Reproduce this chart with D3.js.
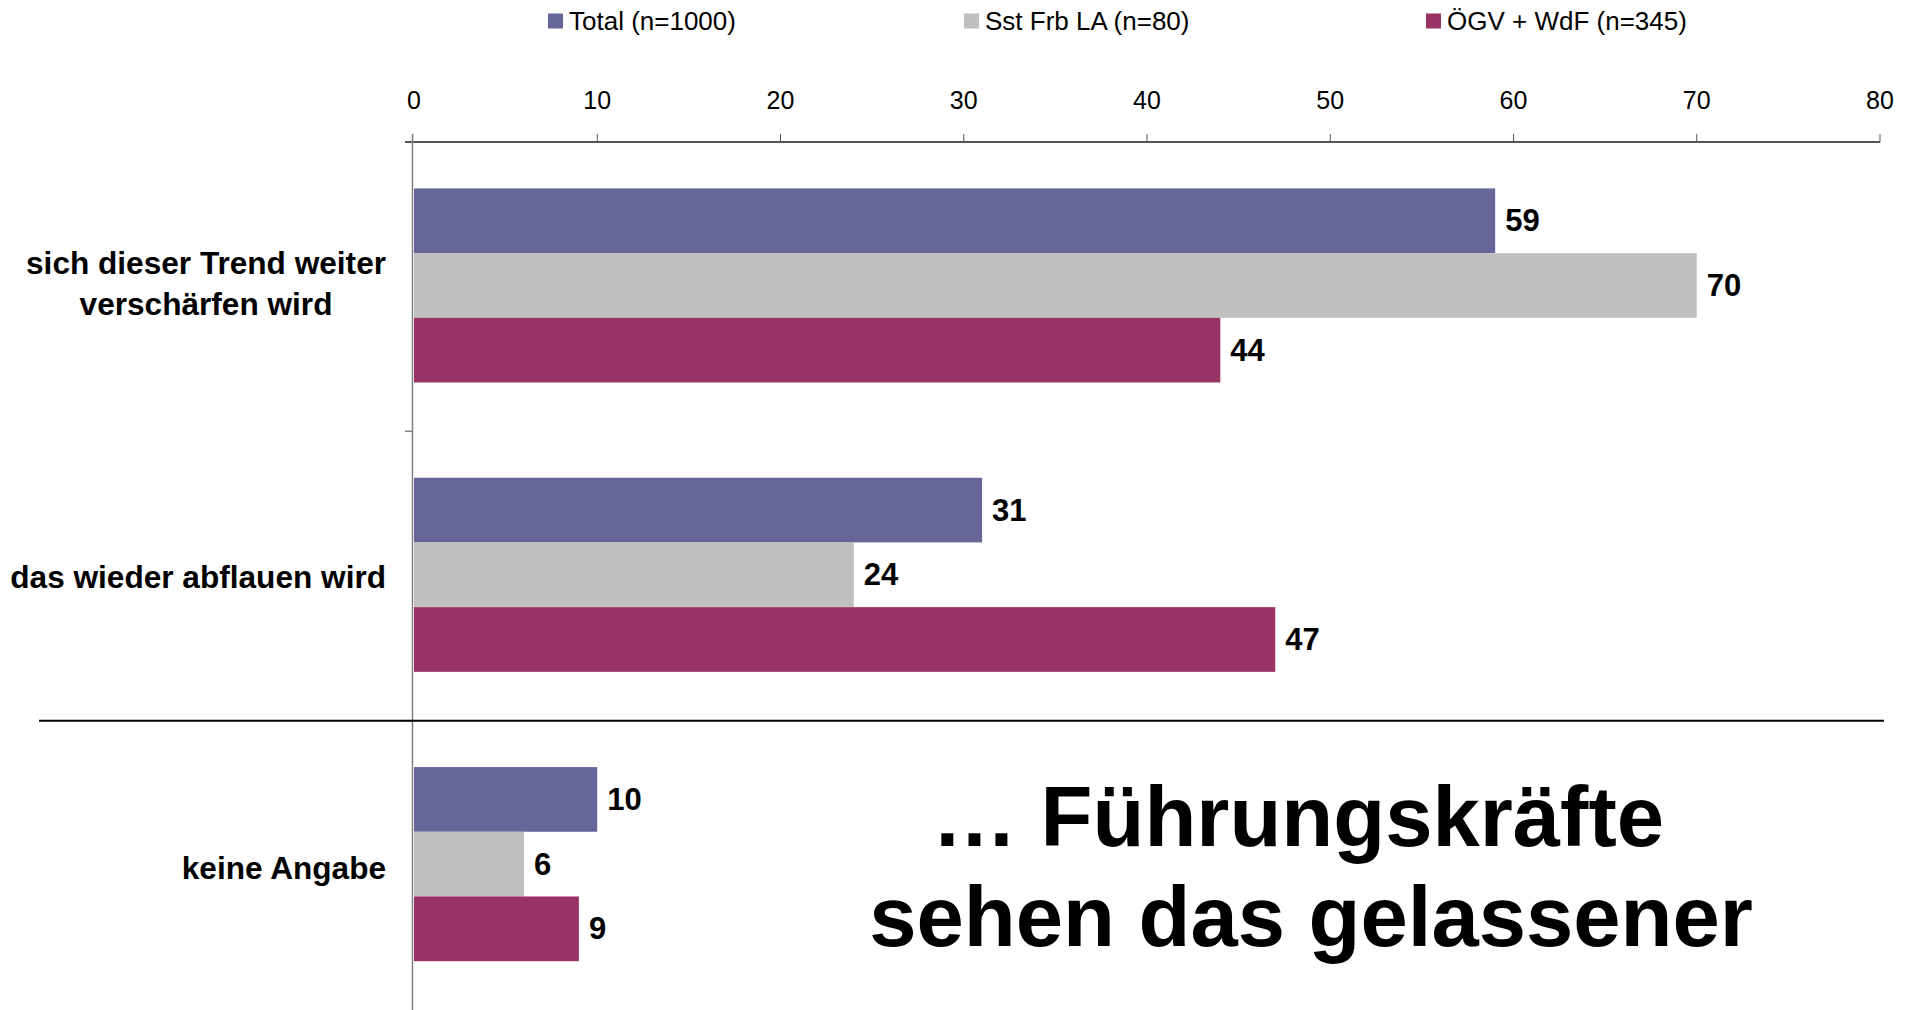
<!DOCTYPE html>
<html lang="de">
<head>
  <meta charset="UTF-8" />
  <title>Führungskräfte</title>
  <script src="https://d3js.org/d3.v7.min.js"></script>
  <style>
    body { margin: 0; background: #fff; font-family: 'Liberation Sans', Arial, sans-serif; }
    svg { display: block; }
  </style>
</head>
<body>
  <svg id="chart" width="1914" height="1010"></svg>
  <script>
    // data
    const categories = ["sich dieser Trend weiter|verschärfen wird", "das wieder abflauen wird", "keine Angabe"];
    const series = ["Total (n=1000)", "Sst Frb LA (n=80)", "ÖGV + WdF (n=345)"];
    const colors = ["#666699", "#c0c0c0", "#993366"];
    const totalValues = [59, 31, 10];
    const sstValues = [70, 24, 6];
    const oegvValues = [44, 47, 9];
    const tickValues = [0, 10, 20, 30, 40, 50, 60, 70, 80];
    const headline = ["… Führungskräfte", "sehen das gelassener"];

    const valuesBySeries = [totalValues, sstValues, oegvValues];
    const rows = [];
    categories.forEach((c, i) => series.forEach((s, j) => rows.push({cat: c, ser: s, idx: j, value: valuesBySeries[j][i]})));

    const svg = d3.select("#chart");

    const x = d3.scaleLinear().domain([0, 80]).range([414, 1880]);
    const y0 = d3.scaleBand().domain(categories).range([142, 1010]);
    const y1 = d3.scaleBand().domain(series).range([46.4, 240.5]);

    // legend
    const legX = [548, 964, 1426];
    const leg = svg.append("g").selectAll("g").data(series).enter().append("g")
      .attr("transform", (d, i) => `translate(${legX[i]},21)`);
    leg.append("rect").attr("x", 0).attr("y", -7.5).attr("width", 15).attr("height", 15)
      .attr("fill", (d, i) => colors[i]);
    leg.append("text").attr("x", 21).attr("y", 0).attr("dominant-baseline", "central")
      .attr("font-size", 26).attr("fill", "#000").text(d => d);

    // top value axis
    const axis = svg.append("g").attr("transform", "translate(0,142)");
    axis.append("line").attr("x1", x(0) - 9).attr("x2", x(80)).attr("y1", 0).attr("y2", 0)
      .attr("stroke", "#555").attr("stroke-width", 2);
    axis.selectAll(".tk").data(tickValues).enter().append("line")
      .attr("x1", d => x(d) - (d === 0 ? 1.5 : 0)).attr("x2", d => x(d) - (d === 0 ? 1.5 : 0))
      .attr("y1", 0).attr("y2", -8)
      .attr("stroke", "#555").attr("stroke-width", 1);
    axis.selectAll(".tl").data(tickValues).enter().append("text")
      .attr("x", d => x(d)).attr("y", -42).attr("text-anchor", "middle")
      .attr("dominant-baseline", "central").attr("font-size", 25).text(d => d);

    // category axis
    svg.append("line").attr("x1", x(0) - 1.5).attr("x2", x(0) - 1.5).attr("y1", 134).attr("y2", 1010)
      .attr("stroke", "#808080").attr("stroke-width", 1.5);
    svg.selectAll(".ct").data(categories.slice(1)).enter().append("line")
      .attr("x1", x(0) - 9).attr("x2", x(0) - 1.5).attr("y1", d => y0(d)).attr("y2", d => y0(d))
      .attr("stroke", "#808080").attr("stroke-width", 1.5);

    // bars
    svg.append("g").selectAll("rect").data(rows).enter().append("rect")
      .attr("x", x(0))
      .attr("y", d => y0(d.cat) + y1(d.ser))
      .attr("width", d => x(d.value) - x(0))
      .attr("height", y1.bandwidth())
      .attr("fill", d => colors[d.idx]);

    // value labels
    svg.append("g").selectAll("text").data(rows).enter().append("text")
      .attr("x", d => x(d.value) + 10)
      .attr("y", d => y0(d.cat) + y1(d.ser) + y1.bandwidth() / 2)
      .attr("dominant-baseline", "central")
      .attr("font-size", 31).attr("font-weight", "bold").text(d => d.value);

    // category labels
    const cl = svg.append("g").selectAll("text").data(categories).enter().append("text")
      .attr("font-size", 31.6).attr("font-weight", "bold")
      .attr("transform", d => `translate(0,${y0(d) + y0.bandwidth() / 2})`);
    cl.each(function (d, k) {
      const lines = d.split("|");
      const t = d3.select(this);
      lines.forEach((ln, i) => {
        t.append("tspan")
          .attr("y", lines.length > 1 ? (i - 0.5) * 41 + 8 : (k === 2 ? 13.5 : 11.5))
          .text(ln);
      });
      const tsp = t.selectAll("tspan");
      if (lines.length > 1) {
        // centred block, right edge at the label column
        const w = d3.max(tsp.nodes(), n => n.getComputedTextLength());
        tsp.attr("x", 386 - w / 2).attr("text-anchor", "middle");
      } else {
        tsp.attr("x", 386).attr("text-anchor", "end");
      }
    });

    // separator line
    svg.append("line").attr("x1", 39).attr("x2", 1884)
      .attr("y1", y0(categories[2])).attr("y2", y0(categories[2]))
      .attr("stroke", "#000").attr("stroke-width", 2);

    // headline
    svg.append("g").selectAll("text").data(headline).enter().append("text")
      .attr("x", (d, i) => i === 0 ? 1298 : 1311).attr("y", (d, i) => 846 + i * 100)
      .attr("text-anchor", "middle").attr("font-size", 85).attr("font-weight", "bold")
      .text(d => d);
  </script>
</body>
</html>
